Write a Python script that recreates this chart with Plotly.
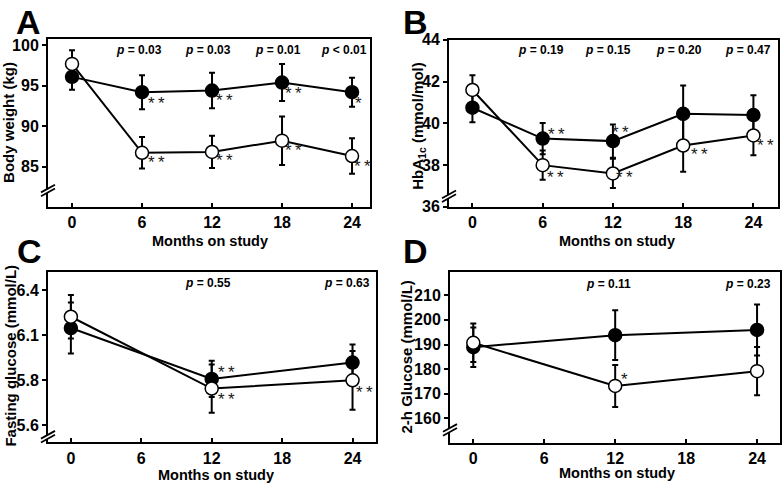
import plotly.graph_objects as go

W, H = 782, 492

# ---------------- data ----------------
months = [0, 6, 12, 18, 24]
months_3 = [0, 12, 24]
x_ticks = [0, 6, 12, 18, 24]

# Panel A: body weight (kg)
bw_filled = [96.1, 94.2, 94.4, 95.4, 94.2]
bw_filled_err = [1.6, 2.1, 2.2, 2.3, 1.8]
bw_open = [97.7, 86.7, 86.8, 88.2, 86.3]
bw_open_err = [1.7, 1.95, 2.0, 3.0, 2.2]
bw_p = ["p = 0.03", "p = 0.03", "p = 0.01", "p < 0.01"]
bw_ticks = [85, 90, 95, 100]

# Panel B: HbA1c (mmol/mol)
hb_filled = [40.75, 39.27, 39.15, 40.46, 40.4]
hb_filled_err = [0.7, 0.75, 0.8, 1.35, 0.95]
hb_open = [41.6, 38.0, 37.6, 38.94, 39.42]
hb_open_err = [0.7, 0.7, 0.7, 1.26, 0.95]
hb_p = ["p = 0.19", "p = 0.15", "p = 0.20", "p = 0.47"]
hb_ticks = [36, 38, 40, 42, 44]

# Panel C: fasting glucose (mmol/L)
fg_filled = [6.147, 5.809, 5.918]
fg_filled_err = [0.17, 0.12, 0.12]
fg_open = [6.222, 5.745, 5.80]
fg_open_err = [0.145, 0.16, 0.195]
fg_p = ["p = 0.55", "p = 0.63"]
fg_tickvals = [5.5, 5.8, 6.1, 6.4]
fg_ticktext = ["5.6", "5.8", "6.1", "6.4"]

# Panel D: 2-h glucose
g2_filled = [188.9, 193.8, 195.9]
g2_filled_err = [8.0, 10.1, 10.3]
g2_open = [190.7, 173.2, 179.2]
g2_open_err = [7.8, 8.5, 9.8]
g2_p = ["p = 0.11", "p = 0.23"]
g2_ticks = [160, 170, 180, 190, 200, 210]

FONT = "Liberation Sans, Arial, sans-serif"

fig = go.Figure()


def add_pair(xv, yf, ef, yo, eo, xa, ya):
    common = dict(mode="lines+markers", xaxis=xa, yaxis=ya, showlegend=False,
                  line=dict(color="black", width=2))
    fig.add_trace(go.Scatter(
        x=xv, y=yf,
        error_y=dict(type="data", array=ef, color="black", thickness=2, width=3),
        marker=dict(symbol="circle", size=13, color="black", line=dict(color="black", width=1.5)),
        **common))
    fig.add_trace(go.Scatter(
        x=xv, y=yo,
        error_y=dict(type="data", array=eo, color="black", thickness=2, width=3),
        marker=dict(symbol="circle", size=13, color="white", line=dict(color="black", width=1.5)),
        **common))


add_pair(months, bw_filled, bw_filled_err, bw_open, bw_open_err, "x", "y")
add_pair(months, hb_filled, hb_filled_err, hb_open, hb_open_err, "x2", "y2")
add_pair(months_3, fg_filled, fg_filled_err, fg_open, fg_open_err, "x3", "y3")
add_pair(months_3, g2_filled, g2_filled_err, g2_open, g2_open_err, "x4", "y4")


def px(x):
    return x / W


def py(y):
    return 1 - y / H


tickfont = dict(family=FONT, size=16, color="black", weight="bold")


def xax(domain, rng, anchor):
    return dict(domain=domain, range=rng, anchor=anchor, tickvals=x_ticks,
                ticks="inside", ticklen=4, tickwidth=1.5, tickcolor="black",
                showline=True, linewidth=2, linecolor="black", mirror=True,
                showgrid=False, zeroline=False, tickfont=tickfont)


def yax(domain, rng, anchor, tickvals, ticktext=None):
    d = dict(domain=domain, range=rng, anchor=anchor, tickvals=tickvals,
             ticks="outside", ticklen=4, tickwidth=1.5, tickcolor="black",
             showline=True, linewidth=2, linecolor="black", mirror=True,
             showgrid=False, zeroline=False, tickfont=tickfont)
    if ticktext is not None:
        d["ticktext"] = ticktext
    return d


fig.update_layout(
    width=W, height=H, margin=dict(l=0, r=0, t=0, b=0),
    paper_bgcolor="white", plot_bgcolor="white", showlegend=False,
    xaxis=xax([px(48), px(370)], [-2.06, 25.54], "y"),
    yaxis=yax([py(206), py(32)], [80, 100.8], "x", bw_ticks),
    xaxis2=xax([px(449), px(778)], [-2.0, 26.1], "y2"),
    yaxis2=yax([py(206), py(33)], [36, 44], "x2", hb_ticks),
    xaxis3=xax([px(48), px(376)], [-1.95, 26.0], "y3"),
    yaxis3=yax([py(450), py(273)], [5.387, 6.522], "x3", fg_tickvals, fg_ticktext),
    xaxis4=xax([px(450), px(780)], [-1.97, 25.94], "y4"),
    yaxis4=yax([py(450.7), py(273)], [150, 219.6], "x4", g2_ticks),
)

ann = []
# panel letters
for letter, cx, cy in [("A", 28, 14), ("B", 415, 14), ("C", 29, 252), ("D", 415, 252)]:
    ann.append(dict(text=letter, x=px(cx), y=py(cy), xref="paper", yref="paper",
                    showarrow=False, xanchor="center", yanchor="middle",
                    font=dict(family=FONT, size=34, color="black", weight="bold")))
# axis titles
title_font = dict(family=FONT, size=14.5, color="black", weight="bold")
for txt, cx, cy in [("Months on study", 210, 241), ("Months on study", 617, 241),
                    ("Months on study", 216, 484), ("Months on study", 617, 482)]:
    ann.append(dict(text=txt, x=px(cx), y=py(cy), xref="paper", yref="paper",
                    showarrow=False, xanchor="center", yanchor="middle", font=title_font))
for txt, cx, cy in [("Body weight (kg)", 9, 119), ("HbA<sub>1c</sub> (mmol/mol)", 419, 122),
                    ("Fasting glucose (mmol/L)", 11, 360), ("2-h Glucose (mmol/L)", 406, 362)]:
    ann.append(dict(text=txt, x=px(cx), y=py(cy), xref="paper", yref="paper",
                    textangle=-90, showarrow=False, xanchor="center", yanchor="middle",
                    font=dict(family=FONT, size=15, color="black", weight="bold")))

# p-value labels
pfont = dict(family=FONT, size=12, color="black", weight="bold")


def p_label(txt):
    return "<i>p</i>" + txt[1:]


for txts, xs, xa, ypix in [
    (bw_p, [139, 208, 278, 344], "x", 43),
    (hb_p, [541, 608, 679, 748], "x2", 43.5),
    (fg_p, [208, 347], "x3", 285),
    (g2_p, [608, 748], "x4", 285.5),
]:
    for t, cx in zip(txts, xs):
        ann.append(dict(text=p_label(t), x=px(cx), y=py(ypix), xref="paper", yref="paper",
                        showarrow=False, xanchor="center", yanchor="middle", font=pfont))

# significance asterisks (attached to data points)
sfont = dict(family=FONT, size=17, color="#1a1a1a")
S2 = "*\u2009*"
stars = [
    ("x", "y", months, bw_filled, 1, S2, 14, -11),
    ("x", "y", months, bw_filled, 2, S2, 12, -10),
    ("x", "y", months, bw_filled, 3, S2, 11, -11),
    ("x", "y", months, bw_filled, 4, "*", 6, -11),
    ("x", "y", months, bw_open, 1, S2, 14, -10),
    ("x", "y", months, bw_open, 2, S2, 12, -9),
    ("x", "y", months, bw_open, 3, S2, 11, -10),
    ("x", "y", months, bw_open, 4, S2, 10, -10),
    ("x2", "y2", months, hb_filled, 1, S2, 14, 4),
    ("x2", "y2", months, hb_filled, 2, S2, 8, 9),
    ("x2", "y2", months, hb_open, 1, S2, 13, -12),
    ("x2", "y2", months, hb_open, 2, S2, 12, -4),
    ("x2", "y2", months, hb_open, 3, S2, 16, -9),
    ("x2", "y2", months, hb_open, 4, S2, 12, -10),
    ("x3", "y3", months_3, fg_filled, 1, S2, 15, 6),
    ("x3", "y3", months_3, fg_open, 1, S2, 15, -11),
    ("x3", "y3", months_3, fg_open, 2, S2, 12, -12),
    ("x4", "y4", months_3, g2_open, 1, "*", 9, 6),
]
for xa, ya, xs, ys, i, t, dx, dy in stars:
    ann.append(dict(text=t, x=xs[i], y=ys[i], xref=xa, yref=ya, showarrow=False,
                    xanchor="center", yanchor="middle", xshift=dx, yshift=dy, font=sfont))

fig.update_layout(annotations=ann)

# axis break marks
shapes = []
for cx, cy in [(48, 189), (449, 195), (48, 444), (450, 437)]:
    shapes.append(dict(type="path", xref="paper", yref="paper",
                       path=f"M {px(cx-7)} {py(cy+2)} L {px(cx+7)} {py(cy-6)} "
                            f"L {px(cx+7)} {py(cy-2)} L {px(cx-7)} {py(cy+6)} Z",
                       fillcolor="white", line=dict(width=0)))
    for off in (0, 4):
        shapes.append(dict(type="line", xref="paper", yref="paper",
                           x0=px(cx - 7), y0=py(cy + 2 + off), x1=px(cx + 7), y1=py(cy - 6 + off),
                           line=dict(color="black", width=1.8)))
fig.update_layout(shapes=shapes)

fig.write_html("out.html", config={"displayModeBar": False},
               post_script="document.body.style.margin='0';document.body.style.overflow='hidden';")
